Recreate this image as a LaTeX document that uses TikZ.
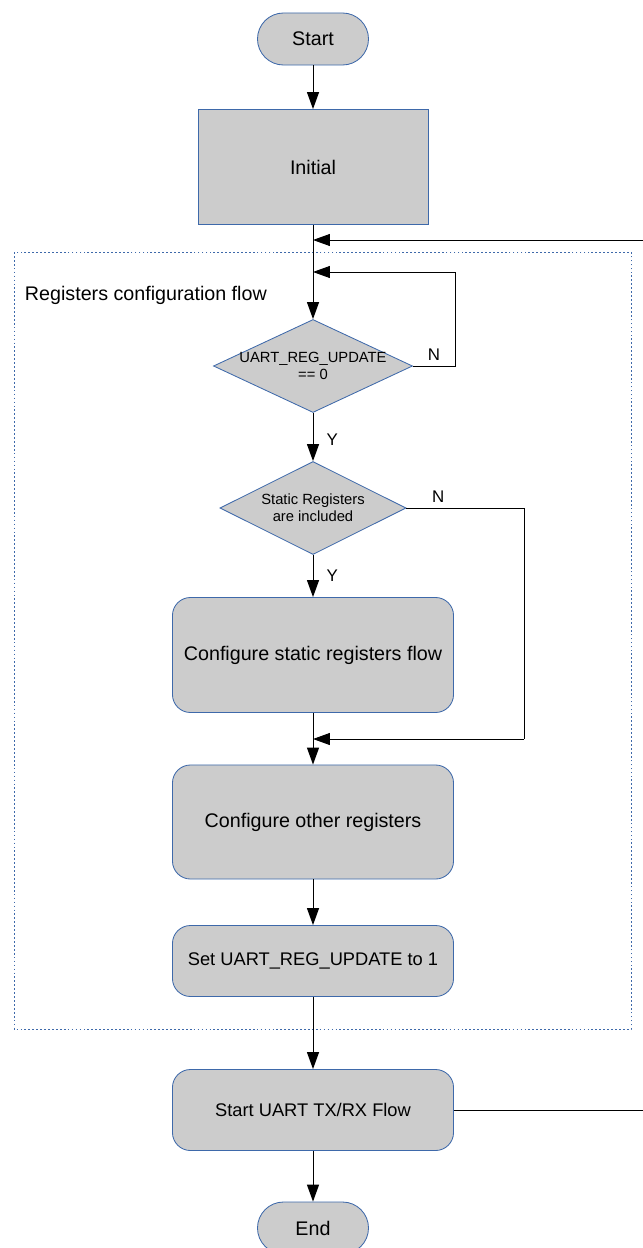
\documentclass[tikz,border=0pt]{standalone}
\usepackage{fontspec}
\setmainfont{Liberation Sans}
\usetikzlibrary{shapes.geometric,arrows.meta,positioning,calc}

\definecolor{boxfill}{RGB}{204,204,204}
\definecolor{boxline}{RGB}{62,105,170}

\begin{document}
\begin{tikzpicture}[
    x=0.025cm, y=-0.025cm,
    % --- STYLES ---
    terminal/.style={
        rectangle, rounded corners=0.65cm,
        draw=boxline, fill=boxfill, line width=0.6pt,
        minimum width=2.775cm, minimum height=1.3cm,
        inner sep=0pt, font=\fontsize{14}{17}\selectfont
    },
    initbox/.style={
        rectangle, draw=boxline, fill=boxfill, line width=0.6pt,
        minimum width=5.75cm, minimum height=2.875cm,
        font=\fontsize{14}{17}\selectfont
    },
    process/.style={
        rectangle, rounded corners=0.45cm,
        draw=boxline, fill=boxfill, line width=0.6pt,
        minimum width=7.025cm, align=center,
        inner sep=0pt
    },
    decision/.style={
        diamond, draw=boxline, fill=boxfill, line width=0.6pt,
        inner sep=-4pt, aspect=2.1, minimum height=2.325cm,
        align=center, font=\fontsize{10.5}{12}\selectfont
    },
    yn/.style={font=\fontsize{12}{14}\selectfont},
    flow/.style={-{Triangle[length=12pt,width=8.5pt]}, line width=0.7pt},
    plain/.style={line width=0.7pt}
]
\useasboundingbox (0,0) rectangle (643,1248);

% ===== 1. FRAME =====
\draw[boxline, line width=0.6pt, dash pattern=on 1.2pt off 1.6pt]
    (14,252) rectangle (631,1029);
\node[anchor=west, font=\fontsize{14}{17}\selectfont] (title) at (20,295)
    {Registers configuration flow};

% ===== 2. NODES =====
\node[terminal] (start) at (313,39) {Start};
\node[initbox] (init) at (313,167) {Initial};

\node[decision, minimum width=4.975cm] (regupd) at (313,366)
    {UART\_REG\_UPDATE\\ == 0};
\node[decision, minimum width=4.65cm] (static) at (313,508)
    {Static Registers\\ are included};

\node[process, minimum height=2.875cm, font=\fontsize{14}{17}\selectfont]
    (cfgstatic) at (313,655) {Configure static registers flow};
\node[process, minimum height=2.85cm, font=\fontsize{14}{17}\selectfont]
    (cfgother) at (313,822) {Configure other registers};
\node[process, minimum height=1.775cm, font=\fontsize{13}{16}\selectfont]
    (setupd) at (313,961) {Set UART\_REG\_UPDATE to 1};
\node[process, minimum height=2.025cm, font=\fontsize{13}{16}\selectfont]
    (txrx) at (313,1110) {Start UART TX/RX Flow};

\node[terminal] (end) at (313,1228) {End};

% joints on the main line
\coordinate (join0) at (313,240);
\coordinate (join1) at (313,272);
\coordinate (join2) at (313,739);
\coordinate (loop1) at (455,272);
\coordinate (loop2) at (524,739);
\coordinate (back) at (648,240);

% ===== 3. CONNECTIONS =====
\draw[flow] (start) -- (init);
\draw[flow] (init) -- (regupd);

% N: wait for the update flag
\draw[plain] (regupd.east) -- node[yn, above, pos=0.5] {N} (regupd.east -| loop1) -- (loop1);
\draw[flow] (loop1) -- (join1);

\draw[flow] (regupd) -- node[yn, right, xshift=6pt, yshift=-2pt] {Y} (static);

% N: skip static registers
\draw[plain] (static.east) -- node[yn, above, pos=0.27] {N} (static.east -| loop2) -- (loop2);
\draw[flow] (loop2) -- (join2);

\draw[flow] (static) -- node[yn, right, xshift=6pt] {Y} (cfgstatic);
\draw[flow] (cfgstatic) -- (cfgother);
\draw[flow] (cfgother) -- (setupd);
\draw[flow] (setupd) -- (txrx);
\draw[flow] (txrx) -- (end);

% back to the configuration flow
\draw[plain] (txrx.east) -- (txrx.east -| back) -- (back);
\draw[flow] (back) -- (join0);

\end{tikzpicture}
\end{document}
